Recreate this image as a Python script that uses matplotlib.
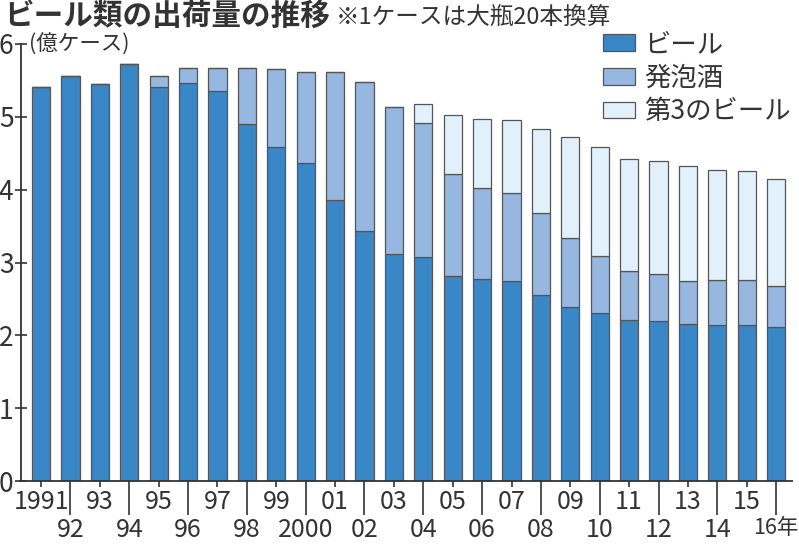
import matplotlib
matplotlib.use("Agg")
import matplotlib.pyplot as plt
import numpy as np

plt.rcParams['font.family'] = ['Noto Sans CJK JP', 'DejaVu Sans']

years = list(range(1991, 2017))
# cumulative levels (億ケース)
beer = [5.41, 5.56, 5.45, 5.73, 5.41, 5.47, 5.35, 4.90, 4.58, 4.37, 3.86, 3.43, 3.12,
        3.07, 2.82, 2.77, 2.74, 2.56, 2.39, 2.30, 2.21, 2.20, 2.16, 2.14, 2.14, 2.11]
happoshu = [0.00, 0.00, 0.00, 0.00, 0.15, 0.20, 0.32, 0.77, 1.07, 1.24, 1.76, 2.05, 2.01,
            1.85, 1.40, 1.25, 1.21, 1.12, 0.95, 0.79, 0.67, 0.64, 0.59, 0.62, 0.62, 0.57]
third = [0.00, 0.00, 0.00, 0.00, 0.00, 0.00, 0.00, 0.00, 0.00, 0.00, 0.00, 0.00, 0.00,
         0.26, 0.80, 0.95, 1.01, 1.15, 1.38, 1.50, 1.54, 1.55, 1.58, 1.51, 1.49, 1.47]
series_names = ["ビール", "発泡酒", "第3のビール"]
colors = ["#3a87c8", "#96b7e0", "#e0f1fb"]
year_labels = ["1991"] + ["%02d" % (y % 100) for y in years[1:9]] + ["2000"] + \
              ["%02d" % (y % 100) for y in years[10:25]] + ["16年"]

W, H = 799, 547
fig = plt.figure(figsize=(W / 100, H / 100), dpi=100)
ax = fig.add_axes([20.5 / W, 1 - 481 / H, (792 - 20.5) / W, (481 - 44) / H])

x = np.arange(len(years))
bw = 0.62
edge = "#555555"
b1 = ax.bar(x, beer, bw, color=colors[0], edgecolor=edge, linewidth=0.9, label=series_names[0])
bottom2 = np.array(beer)
b2 = ax.bar(x, happoshu, bw, bottom=bottom2, color=colors[1], edgecolor=edge, linewidth=0.9,
            label=series_names[1])
bottom3 = bottom2 + np.array(happoshu)
b3 = ax.bar(x, third, bw, bottom=bottom3, color=colors[2], edgecolor=edge, linewidth=0.9,
            label=series_names[2])

ax.set_xlim(-0.70, 25.54)
ax.set_ylim(0, 6)

for s in ["top", "right"]:
    ax.spines[s].set_visible(False)
for s in ["left", "bottom"]:
    ax.spines[s].set_color("#333333")
    ax.spines[s].set_linewidth(1.3)

tick_font = ['Liberation Sans Narrow', 'Noto Sans CJK JP']
ax.set_yticks(range(0, 7))
ax.set_yticklabels([str(v) for v in range(0, 7)], fontsize=19, color="#333333", family=tick_font)
ax.tick_params(axis='y', direction='inout', length=8, width=1.2, color="#333333", pad=1)

ax.set_xticks(x[0::2])
ax.set_xticklabels(year_labels[0::2], fontsize=18, color="#333333", family=tick_font)
ax.set_xticks(x[1::2], minor=True)
ax.set_xticklabels(year_labels[1::2], minor=True, fontsize=18, color="#333333", family=tick_font)
ax.tick_params(axis='x', which='major', direction='out', length=4.5, width=1.2, color="#333333", pad=1.5)
ax.tick_params(axis='x', which='minor', direction='out', length=24.5, width=1.2, color="#333333", pad=1.5)
for lab in ax.xaxis.get_minorticklabels():
    if lab.get_text() == "16年":
        lab.set_fontsize(15.5)

fig.text(4 / W, 1 - 16 / H, "ビール類の出荷量の推移", fontsize=21.3, fontweight='bold',
         color="#333333", va='center', ha='left')
fig.text(336 / W, 1 - 18 / H, "※1ケースは大瓶20本換算", fontsize=17,
         color="#333333", va='center', ha='left')
fig.text(29 / W, 1 - 45 / H, "(億ケース)", fontsize=15.5,
         color="#333333", va='center', ha='left')

leg = ax.legend(handles=[b1, b2, b3], loc='upper left', bbox_to_anchor=(603 / W, 1 - 31 / H),
                bbox_transform=fig.transFigure, frameon=False, fontsize=19,
                handlelength=1.2, handleheight=0.6, handletextpad=0.35, labelspacing=0.25,
                borderpad=0, borderaxespad=0)
for t in leg.get_texts():
    t.set_color("#333333")

fig.savefig("out.png", dpi=100)
